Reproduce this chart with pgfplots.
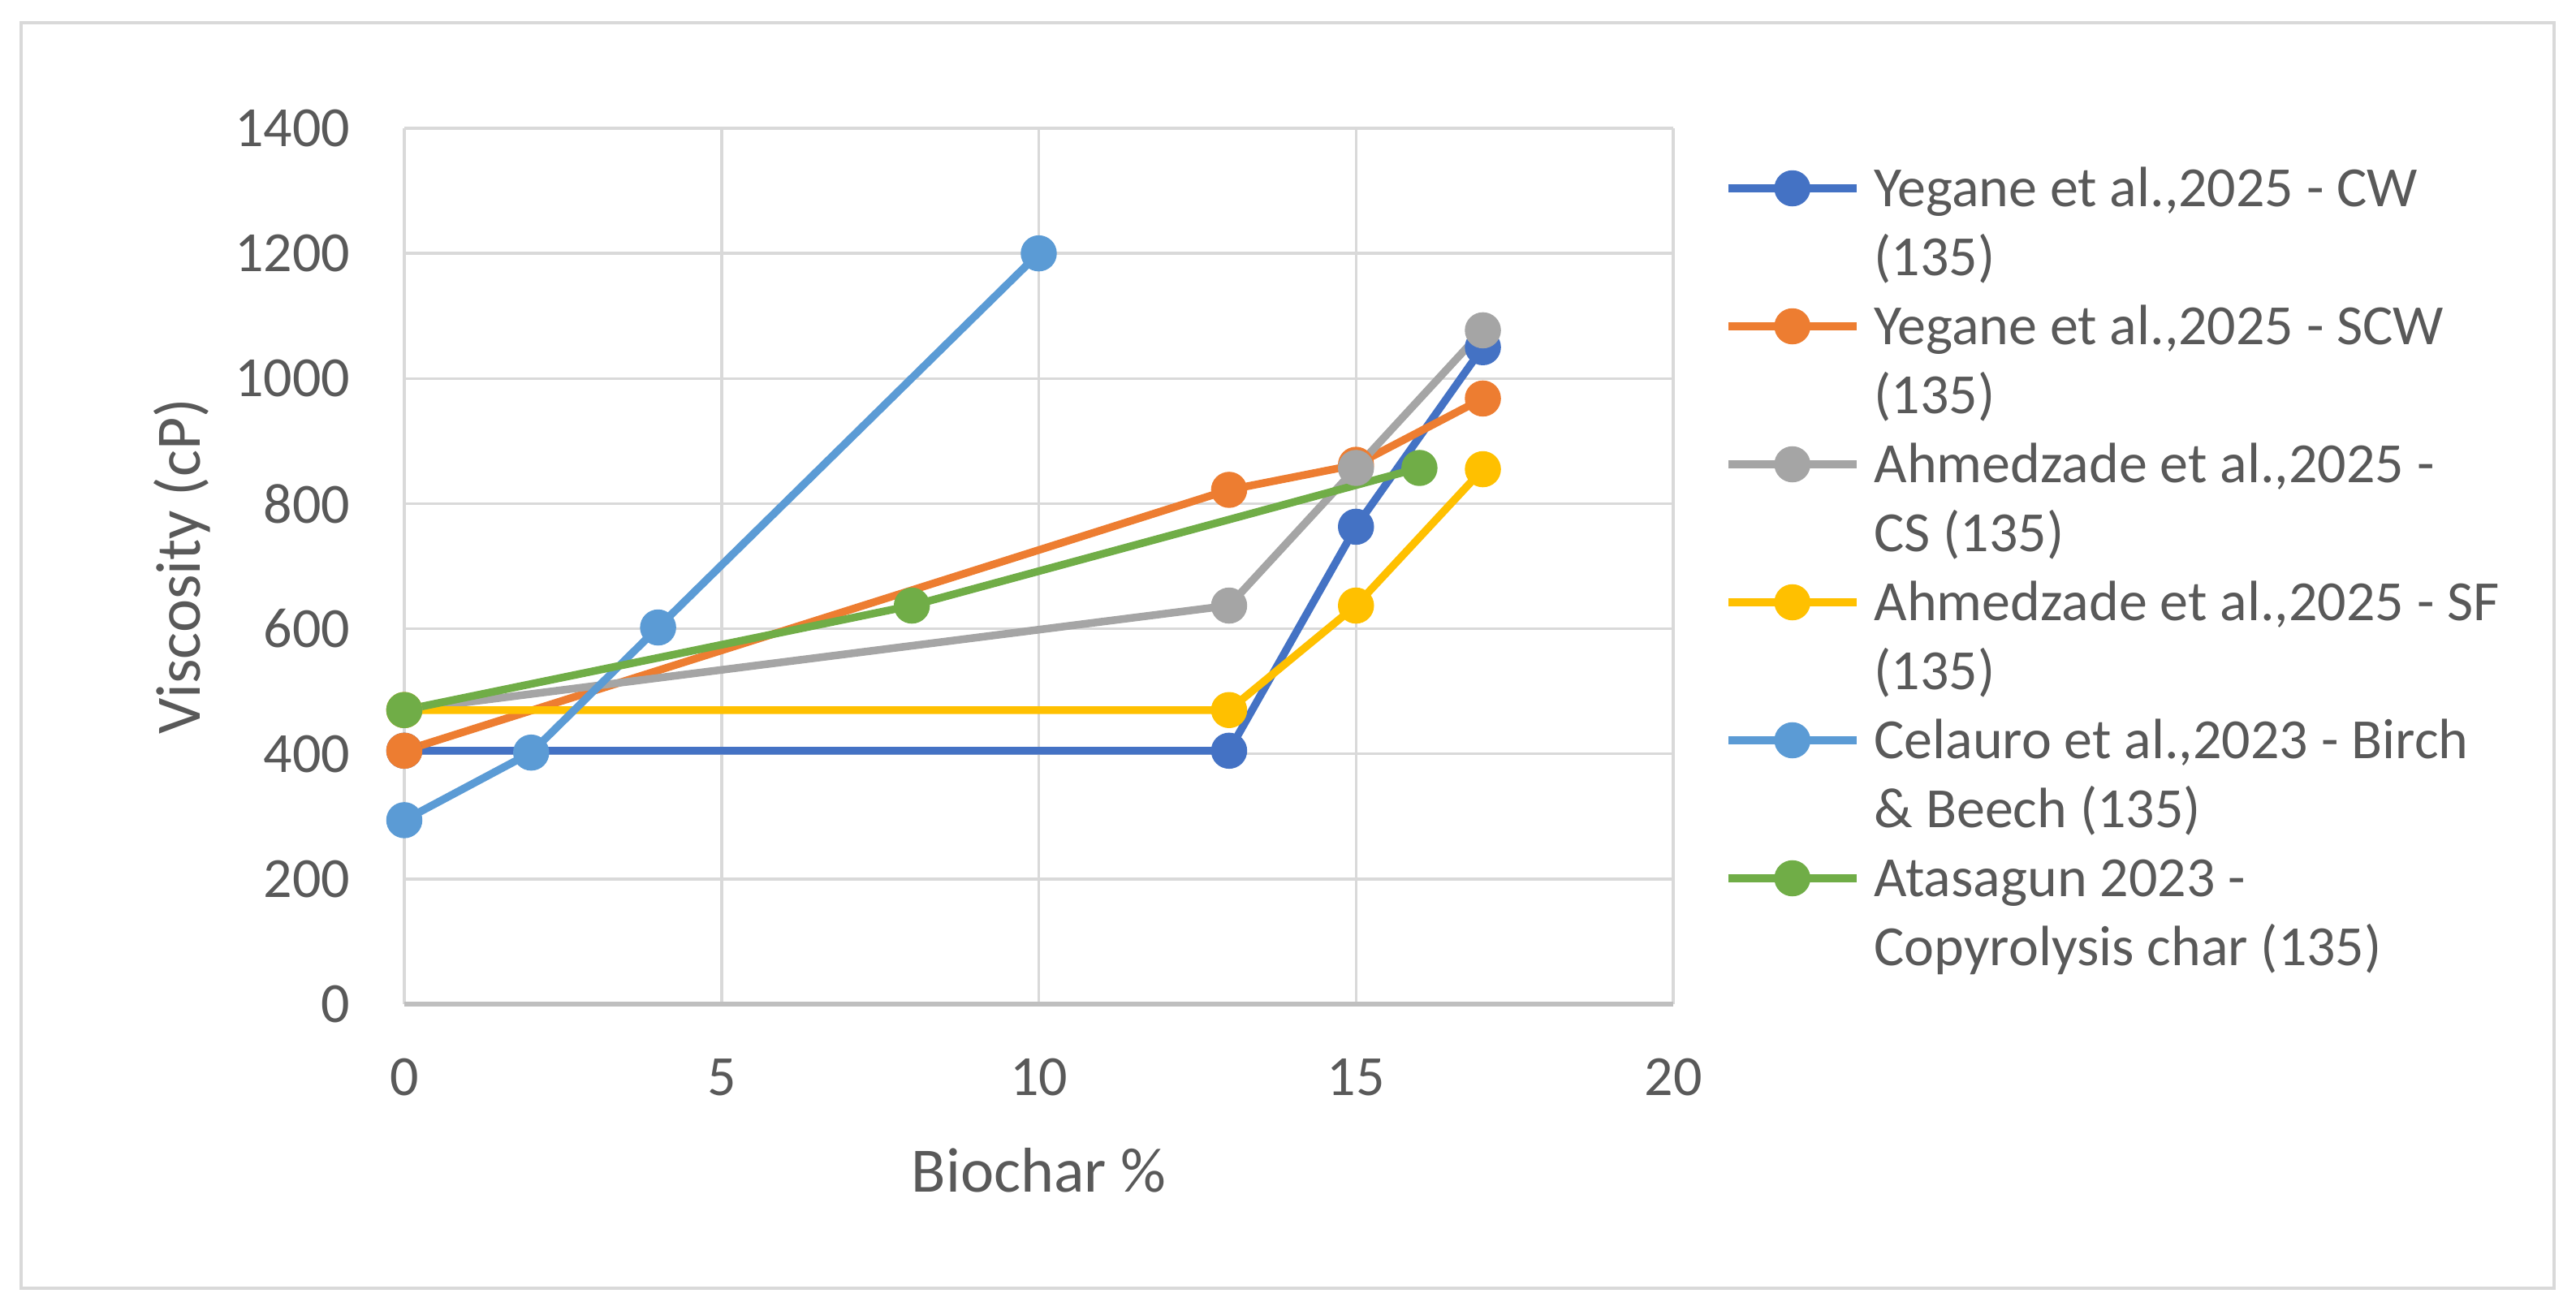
\documentclass[border=0pt]{standalone}
\usepackage{fontspec}
\setmainfont{Carlito}
\usepackage{pgfplots}
\pgfplotsset{compat=1.18}
\definecolor{cCW}{HTML}{4472C4}
\definecolor{cSCW}{HTML}{ED7D31}
\definecolor{cCS}{HTML}{A5A5A5}
\definecolor{cSF}{HTML}{FFC000}
\definecolor{cBB}{HTML}{5B9BD5}
\definecolor{cAT}{HTML}{70AD47}
\definecolor{cText}{HTML}{595959}
\definecolor{cGrid}{HTML}{D9D9D9}
\definecolor{cAxis}{HTML}{BFBFBF}
\definecolor{cFrame}{HTML}{D9D9D9}
\pgfplotsset{
  ser/.style={color=#1, line width=1.9bp, mark=*, mark size=4.3bp,
    mark options={solid, fill=#1, draw=#1, line width=0.3bp}},
}
\begin{document}
\begin{tikzpicture}
\useasboundingbox (0,0) rectangle (634.6bp,324bp);
\draw[draw=cFrame, line width=0.8bp] (5.2bp,6.6bp) rectangle (629.2bp,318.4bp);
\begin{axis}[
  at={(99.6bp,76.6bp)}, anchor=south west,
  scale only axis, width=312.6bp, height=215.8bp,
  xmin=0, xmax=20, ymin=0, ymax=1400,
  xtick={0,5,10,15,20}, ytick={0,200,400,600,800,1000,1200,1400},
  scaled ticks=false,
  /pgf/number format/1000 sep={},
  /pgf/number format/assume math mode=true,
  clip=false,
  separate axis lines,
  axis x line*=bottom, axis y line*=left,
  x axis line style={draw=cAxis, line width=1.2bp},
  y axis line style={draw=none},
  major tick length=0pt,
  grid=major,
  major grid style={draw=cGrid, line width=0.7bp},
  tick label style={font=\fontsize{14bp}{16bp}\selectfont, text=cText},
  yticklabel style={anchor=east, inner sep=0pt, xshift=-13.2bp},
  xticklabel style={anchor=center, inner sep=0pt, yshift=-18bp},
  xlabel={Biochar \%},
  ylabel={Viscosity (cP)},
  label style={font=\fontsize{15.6bp}{18bp}\selectfont, text=cText},
  xlabel style={at={(rel axis cs:0.5,-0.1900)}, anchor=center, inner sep=0pt},
  ylabel style={at={(rel axis cs:-0.1753,0.5)}, anchor=center, rotate=0, inner sep=0pt},
  legend cell align=left,
  legend style={at={(1.04031,0.97081)}, anchor=north west, draw=none, fill=none,
    inner sep=0pt, outer sep=0pt, row sep=0pt, column sep=3.4bp,
    font=\fontsize{14bp}{17bp}\selectfont,
    nodes={inner sep=0pt, outer sep=0pt, text height=13bp, text depth=4bp, text=cText}},
  legend image code/.code={\draw[mark repeat=2,mark phase=2,#1] plot coordinates {(0bp,0bp) (15.8bp,0bp) (31.6bp,0bp)};},
]
\addplot[ser=cCW] coordinates {(0,405) (13,405) (15,763) (17,1050)};
\addlegendentry{Yegane et al.,2025 - CW}
\addlegendimage{empty legend}
\addlegendentry{(135)}
\addplot[ser=cSCW] coordinates {(0,405) (13,822) (15,862) (17,968)};
\addlegendentry{Yegane et al.,2025 - SCW}
\addlegendimage{empty legend}
\addlegendentry{(135)}
\addplot[ser=cCS] coordinates {(0,470) (13,637) (15,857) (17,1077)};
\addlegendentry{Ahmedzade et al.,2025 -}
\addlegendimage{empty legend}
\addlegendentry{CS (135)}
\addplot[ser=cSF] coordinates {(0,470) (13,470) (15,637) (17,855)};
\addlegendentry{Ahmedzade et al.,2025 - SF}
\addlegendimage{empty legend}
\addlegendentry{(135)}
\addplot[ser=cBB] coordinates {(0,294) (2,402) (4,602) (10,1200)};
\addlegendentry{Celauro et al.,2023 - Birch}
\addlegendimage{empty legend}
\addlegendentry{\& Beech (135)}
\addplot[ser=cAT] coordinates {(0,470) (8,637) (16,857)};
\addlegendentry{Atasagun 2023 -}
\addlegendimage{empty legend}
\addlegendentry{Copyrolysis char (135)}
\end{axis}
\end{tikzpicture}
\end{document}
